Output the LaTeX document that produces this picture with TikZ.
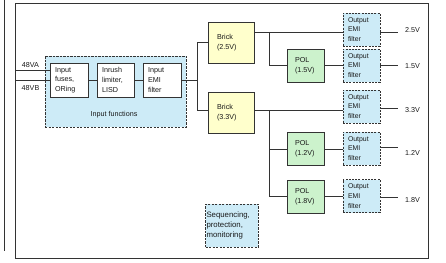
\documentclass[tikz,border=0pt]{standalone}
\usepackage{fontspec}
\setmainfont{Liberation Sans}
\definecolor{brickfill}{HTML}{FFFFCC}
\definecolor{polfill}{HTML}{CCF2CC}
\definecolor{bluefill}{HTML}{CDEBF7}
\definecolor{edge}{HTML}{333333}
\definecolor{txt}{HTML}{1A1A1A}
\begin{document}
\begin{tikzpicture}[x=1pt,y=-1pt,
  every node/.style={text=txt},
  txtfont/.style={font=\fontsize{7.2}{9.6}\selectfont},
  blk/.style={draw=edge, line width=0.75pt, rectangle, inner ysep=0pt, align=left, txtfont},
  plainbox/.style={blk, fill=white, inner xsep=5pt},
  brickbox/.style={blk, fill=brickfill, inner xsep=9pt, minimum width=46pt, minimum height=41pt, text width=28pt},
  polbox/.style={blk, fill=polfill, inner xsep=8pt, minimum width=37pt, minimum height=33pt, text width=21pt},
  filterbox/.style={blk, fill=bluefill, dashed, dash pattern=on 2pt off 1.2pt, inner xsep=5pt, minimum width=37pt, minimum height=33pt, text width=27pt, font=\fontsize{6.9}{9.8}\selectfont},
  wire/.style={draw=edge, line width=0.75pt},
  lbl/.style={txtfont, inner sep=0pt}
]
\useasboundingbox (0,0) rectangle (446,262);
% frame
\draw[edge, line width=0.8pt] (15,3) rectangle (428,258);
\draw[edge, line width=0.8pt] (4,0) -- (4,251);

% input functions group
\node[blk, fill=bluefill, dashed, dash pattern=on 2.2pt off 1.3pt, minimum width=141pt, minimum height=71pt] (infunc) at (115.5,91.5) {};
\node[lbl] (inlbl) at (114,115) {Input functions};
\node[plainbox, minimum width=38pt, minimum height=34pt, text width=28pt] (fuses) at (69,80) {Input\\fuses,\\ORing};
\node[plainbox, minimum width=37pt, minimum height=34pt, text width=27pt] (inrush) at (115.5,80) {Inrush\\limiter,\\LISD};
\node[plainbox, minimum width=38pt, minimum height=34pt, text width=28pt] (inemi) at (162,80) {Input\\EMI\\filter};

% input supply
\coordinate (va) at (15,70);
\coordinate (vb) at (15,80);
\node[lbl] (valbl) at (30.5,65) {48VA};
\node[lbl] (vblbl) at (30.5,88) {48VB};
\draw[wire] (va) -- (fuses.west |- va);
\draw[wire] (vb) -- (fuses.west |- vb);
\draw[wire] (fuses) -- (inrush);
\draw[wire] (inrush) -- (inemi);

% bricks
\node[brickbox] (b25) at (231,42.5) {Brick\\(2.5V)};
\node[brickbox] (b33) at (231,112.5) {Brick\\(3.3V)};
\coordinate (split) at (197,80);
\draw[wire] (inemi.east) -- (split);
\draw[wire] (split |- 0,42.5) -- (split |- 0,110);
\draw[wire] (split |- 0,42.5) -- (b25.west |- 0,42.5);
\draw[wire] (split |- 0,110) -- (b33.west |- 0,110);

% POLs
\node[polbox] (p15) at (305.5,65.5) {POL\\(1.5V)};
\node[polbox] (p12) at (305.5,149) {POL\\(1.2V)};
\node[polbox] (p18) at (305.5,196.5) {POL\\(1.8V)};

% output filters
\node[filterbox] (f1) at (361.5,29.5) {Output\\EMI\\filter};
\node[filterbox] (f2) at (361.5,65.5) {Output\\EMI\\filter};
\node[filterbox] (f3) at (361.5,106.5) {Output\\EMI\\filter};
\node[filterbox] (f4) at (361.5,148.5) {Output\\EMI\\filter};
\node[filterbox] (f5) at (361.5,196) {Output\\EMI\\filter};

% brick 2.5 branch
\coordinate (t1) at (269,32);
\draw[wire] (b25.east |- t1) -- (f1.west |- t1);
\draw[wire] (t1) -- (t1 |- p15.west) -- (p15.west);
\draw[wire] (p15.east) -- (f2.west |- p15.east);

% brick 3.3 branch
\coordinate (t2) at (269,110);
\draw[wire] (b33.east |- t2) -- (f3.west |- t2);
\draw[wire] (t2) -- (t2 |- p18.west) -- (p18.west);
\draw[wire] (t2 |- p12.west) -- (p12.west);
\draw[wire] (p12.east) -- (f4.west |- p12.east);
\draw[wire] (p18.east) -- (f5.west |- p18.east);

% outputs
\coordinate (o1) at (398,32);
\coordinate (o2) at (398,65.5);
\coordinate (o3) at (398,108);
\coordinate (o4) at (398,147.5);
\coordinate (o5) at (398,197.5);
\draw[wire] (f1.east |- o1) -- (o1);
\draw[wire] (f2.east |- o2) -- (o2);
\draw[wire] (f3.east |- o3) -- (o3);
\draw[wire] (f4.east |- o4) -- (o4);
\draw[wire] (f5.east |- o5) -- (o5);
\node[lbl, anchor=west] (l1) at (405,30) {2.5V};
\node[lbl, anchor=west] (l2) at (405,66) {1.5V};
\node[lbl, anchor=west] (l3) at (405,110.5) {3.3V};
\node[lbl, anchor=west] (l4) at (405,153) {1.2V};
\node[lbl, anchor=west] (l5) at (405,200) {1.8V};

% sequencing
\node[blk, fill=bluefill, dashed, dash pattern=on 2.2pt off 1.3pt, minimum width=52pt, minimum height=43pt, text width=51pt, inner xsep=0.8pt, font=\fontsize{7.8}{9.8}\selectfont] (seq) at (232,225.5) {Sequencing,\\protection,\\monitoring};
\end{tikzpicture}
\end{document}
